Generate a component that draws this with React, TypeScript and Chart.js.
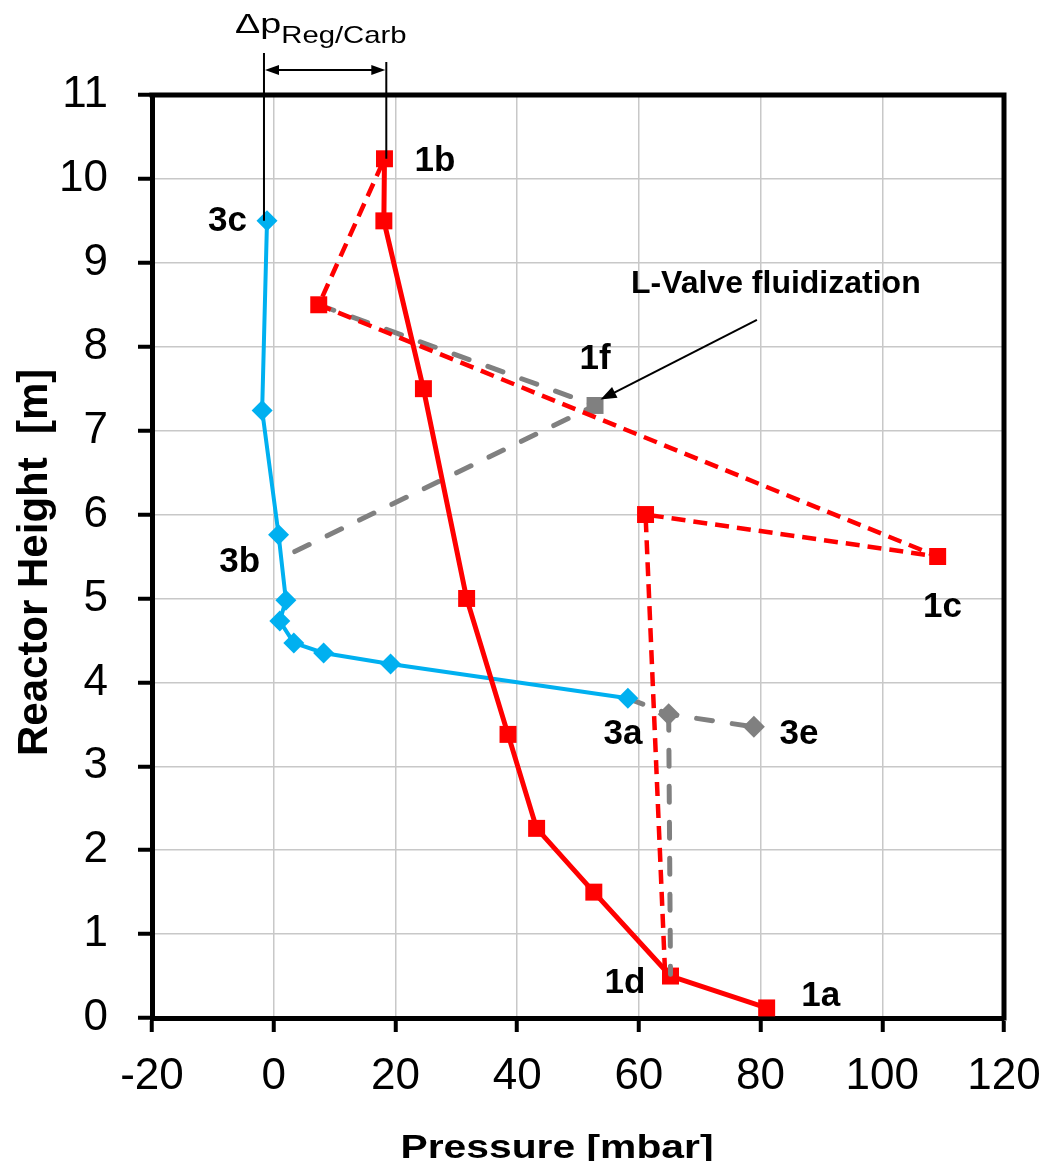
import React, { useEffect, useRef } from 'react';
import { Chart, registerables } from 'chart.js';

Chart.register(...registerables);

const FONT = '"Liberation Sans", Arial, sans-serif';

// Axis ranges / ticks
const xTickValues = [-20, 0, 20, 40, 60, 80, 100, 120];
const yTickValues = [0, 1, 2, 3, 4, 5, 6, 7, 8, 9, 10, 11];
const xTitle = 'Pressure [mbar]';
const yTitle = 'Reactor Height  [m]';

// Series 1 (red, solid): 1a -> ... -> 1b
const redSolidX = [81.0, 65.2, 52.6, 43.2, 38.5, 31.7, 24.6, 18.1, 18.2];
const redSolidY = [0.12, 0.5, 1.5, 2.26, 3.38, 5.0, 7.5, 9.5, 10.24];

// Series 3 (blue, solid): 3c -> ... -> 3a
const blueX = [-1.1, -1.9, 0.8, 2.0, 1.0, 3.3, 8.2, 19.2, 58.2];
const blueY = [9.5, 7.24, 5.76, 4.98, 4.73, 4.47, 4.35, 4.22, 3.81];

// Series 1 (red, dashed): 1d -> 6m -> 1c -> 8.5m -> 1b
const redDashX = [64.3, 61.1, 109.1, 7.4, 18.2];
const redDashY = [0.55, 6.0, 5.5, 8.5, 10.24];
const redDashMarker = [false, true, true, true, false];

// Gray dashed: 8.5m -> 1f -> 3b
const grayUpperX = [7.4, 52.8, 1.8];
const grayUpperY = [8.5, 7.3, 5.5];
const grayUpperMarker = [false, true, false];

// Gray dashed: 3a -> 3.6m -> 3e
const grayLowerX = [58.2, 64.9, 78.9];
const grayLowerY = [3.81, 3.62, 3.47];
const grayLowerMarker = [false, true, true];

// Gray dashed vertical: 3.6m -> 1d
const grayVertX = [64.9, 65.2];
const grayVertY = [3.62, 0.52];

// Point labels (text + data-coordinate centre)
const pointLabelText = ['1a', '1b', '1c', '1d', '1f', '3a', '3b', '3c', '3e'];
const pointLabelX = [89.9, 26.5, 109.9, 57.7, 52.8, 57.4, -5.6, -7.6, 86.3];
const pointLabelY = [0.255, 10.21, 4.9, 0.41, 7.85, 3.38, 5.43, 9.5, 3.38];

// L-Valve annotation
const lValveText = 'L-Valve fluidization';
const lValvePos = [82.5, 8.75];
const lValveArrowFrom = [79.4, 8.32];
const lValveArrowTo = [53.7, 7.37];

// Delta-p annotation (x positions and lower ends in data units)
const deltaPMain = '\u0394p';
const deltaPSub = 'Reg/Carb';
const deltaPX = [-1.6, 18.5];
const deltaPBottomY = [9.5, 10.24];

const RED = '#FF0000';
const BLUE = '#00B0F0';
const GRAY = '#808080';

const pts = (xs: number[], ys: number[]) => xs.map((x, i) => ({ x, y: ys[i] }));

function arrowHead(ctx: CanvasRenderingContext2D, fx: number, fy: number, tx: number, ty: number, len: number, half: number) {
  const a = Math.atan2(ty - fy, tx - fx);
  ctx.beginPath();
  ctx.moveTo(tx, ty);
  ctx.lineTo(tx - len * Math.cos(a) + half * Math.sin(a), ty - len * Math.sin(a) - half * Math.cos(a));
  ctx.lineTo(tx - len * Math.cos(a) - half * Math.sin(a), ty - len * Math.sin(a) + half * Math.cos(a));
  ctx.closePath();
  ctx.fill();
}

function stretchedText(ctx: CanvasRenderingContext2D, text: string, x: number, y: number, sx: number) {
  ctx.save();
  ctx.translate(x, y);
  ctx.scale(sx, 1);
  ctx.fillText(text, 0, 0);
  ctx.restore();
  return ctx.measureText(text).width * sx;
}

const annotPlugin = {
  id: 'annot',
  afterDraw(chart: any) {
    const { ctx, chartArea: ca } = chart;
    const xs = chart.scales.x;
    const ys = chart.scales.y;
    ctx.save();
    // top & right frame
    ctx.strokeStyle = '#000';
    ctx.lineWidth = 5;
    ctx.lineCap = 'square';
    ctx.beginPath();
    ctx.moveTo(ca.left, ca.top);
    ctx.lineTo(ca.right, ca.top);
    ctx.lineTo(ca.right, ca.bottom);
    ctx.stroke();

    // x axis title
    ctx.fillStyle = '#000';
    ctx.font = `bold 34px ${FONT}`;
    ctx.textAlign = 'center';
    ctx.textBaseline = 'alphabetic';
    ctx.save();
    ctx.translate((ca.left + ca.right) / 2 - 21, ca.bottom + 140);
    ctx.scale(1.2, 1);
    ctx.fillText(xTitle, 0, 0);
    ctx.restore();

    // point labels
    ctx.font = `bold 35px ${FONT}`;
    ctx.textAlign = 'center';
    ctx.textBaseline = 'middle';
    pointLabelText.forEach((t, i) => {
      ctx.fillText(t, xs.getPixelForValue(pointLabelX[i]), ys.getPixelForValue(pointLabelY[i]));
    });

    // L-valve text and arrow
    ctx.font = `bold 32px ${FONT}`;
    ctx.fillText(lValveText, xs.getPixelForValue(lValvePos[0]), ys.getPixelForValue(lValvePos[1]));
    const ax1 = xs.getPixelForValue(lValveArrowFrom[0]);
    const ay1 = ys.getPixelForValue(lValveArrowFrom[1]);
    const ax2 = xs.getPixelForValue(lValveArrowTo[0]);
    const ay2 = ys.getPixelForValue(lValveArrowTo[1]);
    ctx.lineWidth = 2;
    ctx.lineCap = 'butt';
    ctx.beginPath();
    ctx.moveTo(ax1, ay1);
    ctx.lineTo(ax2 + (ax1 - ax2) * 0.06, ay2 + (ay1 - ay2) * 0.06);
    ctx.stroke();
    arrowHead(ctx, ax1, ay1, ax2, ay2, 16, 6);

    // Delta p annotation
    const lx = xs.getPixelForValue(deltaPX[0]);
    const rx = xs.getPixelForValue(deltaPX[1]);
    ctx.lineWidth = 2;
    ctx.beginPath();
    ctx.moveTo(lx, ca.top - 42);
    ctx.lineTo(lx, ys.getPixelForValue(deltaPBottomY[0]));
    ctx.moveTo(rx, ca.top - 33);
    ctx.lineTo(rx, ys.getPixelForValue(deltaPBottomY[1]));
    const ay = ca.top - 25;
    ctx.moveTo(lx + 8, ay);
    ctx.lineTo(rx - 8, ay);
    ctx.stroke();
    arrowHead(ctx, rx, ay, lx + 1, ay, 14, 5);
    arrowHead(ctx, lx, ay, rx - 1, ay, 14, 5);

    ctx.textAlign = 'left';
    ctx.textBaseline = 'alphabetic';
    ctx.font = `28px ${FONT}`;
    const tx = lx - 29;
    const w = stretchedText(ctx, deltaPMain, tx, ca.top - 62, 1.35);
    ctx.font = `24px ${FONT}`;
    stretchedText(ctx, deltaPSub, tx + w, ca.top - 52, 1.22);
    ctx.restore();
  },
};

export default function App() {
  const ref = useRef<HTMLCanvasElement | null>(null);
  useEffect(() => {
    if (!ref.current) return;
    const markerR = (flags: boolean[], r: number) => flags.map((f) => (f ? r : 0));
    const chart = new Chart(ref.current, {
      type: 'scatter',
      data: {
        datasets: [
          {
            label: 'gray vertical',
            data: pts(grayVertX, grayVertY),
            showLine: true,
            borderColor: GRAY,
            borderWidth: 5,
            borderDash: [16, 20],
            borderCapStyle: 'round',
            pointRadius: 0,
          },
          {
            label: 'red solid',
            data: pts(redSolidX, redSolidY),
            showLine: true,
            borderColor: RED,
            backgroundColor: RED,
            borderWidth: 5,
            pointStyle: 'rect',
            pointRadius: 12,
            pointBorderWidth: 0,
          },
          {
            label: 'blue',
            data: pts(blueX, blueY),
            showLine: true,
            borderColor: BLUE,
            backgroundColor: BLUE,
            borderWidth: 4,
            pointStyle: 'rectRot',
            pointRadius: 10.5,
            pointBorderWidth: 0,
          },
          {
            label: 'red dashed',
            data: pts(redDashX, redDashY),
            showLine: true,
            borderColor: RED,
            backgroundColor: RED,
            borderWidth: 4.5,
            borderDash: [14, 8],
            borderJoinStyle: 'bevel',
            pointStyle: 'rect',
            pointRadius: markerR(redDashMarker, 12),
            pointBorderWidth: 0,
          },
          {
            label: 'gray upper',
            data: pts(grayUpperX, grayUpperY),
            showLine: true,
            borderColor: GRAY,
            backgroundColor: GRAY,
            borderWidth: 5,
            borderDash: [16, 20],
            borderCapStyle: 'round',
            borderJoinStyle: 'bevel',
            pointStyle: 'rect',
            pointRadius: markerR(grayUpperMarker, 12),
            pointBorderWidth: 0,
          },
          {
            label: 'gray lower',
            data: pts(grayLowerX, grayLowerY),
            showLine: true,
            borderColor: GRAY,
            backgroundColor: GRAY,
            borderWidth: 5,
            borderDash: [16, 20],
            borderCapStyle: 'round',
            pointStyle: 'rectRot',
            pointRadius: markerR(grayLowerMarker, 11),
            pointBorderWidth: 0,
          },
        ],
      },
      options: {
        animation: false,
        responsive: false,
        events: [],
        layout: { padding: { left: 0, right: 35, top: 87, bottom: 0 } },
        plugins: { legend: { display: false }, tooltip: { enabled: false } },
        scales: {
          x: {
            type: 'linear',
            min: xTickValues[0],
            max: xTickValues[xTickValues.length - 1],
            afterBuildTicks: (s: any) => {
              s.ticks = xTickValues.map((v) => ({ value: v }));
            },
            ticks: { color: '#000', font: { family: FONT, size: 44 }, padding: 18, maxRotation: 0 },
            grid: { color: '#c8c8c8', lineWidth: 1.5, tickColor: '#000', tickWidth: 4, tickLength: 14 },
            border: { color: '#000', width: 5 },
            title: { display: false, text: xTitle },
            afterFit: (s: any) => {
              s.height = 151;
              s.paddingLeft = 0;
              s.paddingRight = 0;
            },
          },
          y: {
            type: 'linear',
            min: yTickValues[0],
            max: yTickValues[yTickValues.length - 1],
            afterBuildTicks: (s: any) => {
              s.ticks = yTickValues.map((v) => ({ value: v }));
            },
            ticks: { color: '#000', font: { family: FONT, size: 44 }, padding: 30 },
            grid: { color: '#c8c8c8', lineWidth: 1.5, tickColor: '#000', tickWidth: 4, tickLength: 14 },
            border: { color: '#000', width: 5 },
            title: {
              display: true,
              text: yTitle + ' ',
              color: '#000',
              font: { family: FONT, size: 42, weight: 'bold', lineHeight: 1 },
              padding: { top: 6, bottom: 0 },
            },
            afterFit: (s: any) => {
              s.width = 144;
            },
          },
        },
      } as any,
      plugins: [annotPlugin],
    });
    return () => chart.destroy();
  }, []);
  return (
    <div style={{ width: 1031, height: 1161, marginBottom: -8 }}>
      <canvas ref={ref} width={1031} height={1161} style={{ display: 'block' }} />
    </div>
  );
}
